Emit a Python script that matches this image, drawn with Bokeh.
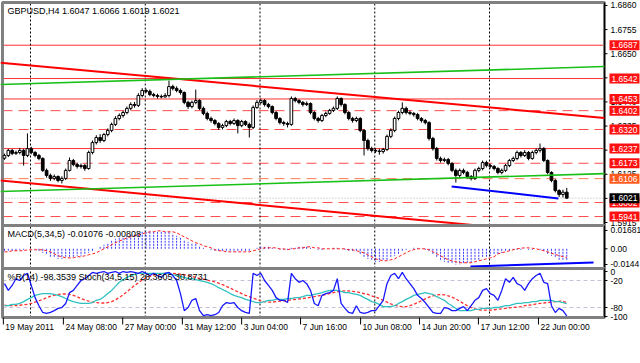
from bokeh.plotting import figure
from bokeh.models import Range1d
from bokeh.core.properties import value
from bokeh.embed import file_html
from bokeh.resources import INLINE

# ---------------- data ----------------
chart_title = "GBPUSD,H4  1.6047 1.6066 1.6019 1.6021"
macd_title = "MACD(5,34,5) -0.01076 -0.00808"
osc_title = "%R(14) -98.3539  Stoch(34,5,15) 28.3605 30.8731"

opens = [1.6195, 1.6207, 1.6229, 1.6216, 1.6220, 1.6229, 1.6207, 1.6237, 1.6220, 1.6207,
         1.6194, 1.6142, 1.6120, 1.6107, 1.6115, 1.6098, 1.6107, 1.6142, 1.6185, 1.6168,
         1.6159, 1.6163, 1.6150, 1.6220, 1.6263, 1.6285, 1.6272, 1.6298, 1.6316, 1.6342,
         1.6368, 1.6381, 1.6394, 1.6412, 1.6429, 1.6425, 1.6468, 1.6490, 1.6486, 1.6472,
         1.6468, 1.6464, 1.6462, 1.6468, 1.6507, 1.6499, 1.6490, 1.6481, 1.6438, 1.6420,
         1.6438, 1.6446, 1.6412, 1.6390, 1.6368, 1.6359, 1.6346, 1.6329, 1.6337, 1.6355,
         1.6346, 1.6359, 1.6337, 1.6355, 1.6342, 1.6329, 1.6416, 1.6438, 1.6446, 1.6429,
         1.6420, 1.6394, 1.6368, 1.6350, 1.6346, 1.6342, 1.6455, 1.6446, 1.6438, 1.6429,
         1.6433, 1.6394, 1.6368, 1.6359, 1.6381, 1.6390, 1.6403, 1.6412, 1.6455, 1.6429,
         1.6394, 1.6368, 1.6359, 1.6368, 1.6316, 1.6272, 1.6237, 1.6229, 1.6226, 1.6224,
         1.6233, 1.6290, 1.6316, 1.6368, 1.6394, 1.6412, 1.6394, 1.6390, 1.6385, 1.6368,
         1.6359, 1.6350, 1.6281, 1.6237, 1.6194, 1.6185, 1.6189, 1.6172, 1.6142, 1.6120,
         1.6142, 1.6133, 1.6115, 1.6107, 1.6142, 1.6150, 1.6176, 1.6163, 1.6159, 1.6150,
         1.6133, 1.6142, 1.6163, 1.6185, 1.6194, 1.6220, 1.6207, 1.6220, 1.6194, 1.6220,
         1.6229, 1.6237, 1.6185, 1.6133, 1.6098, 1.6054, 1.6037, 1.6047]
closes = [1.6207, 1.6229, 1.6216, 1.6220, 1.6229, 1.6207, 1.6237, 1.6220, 1.6207, 1.6194,
          1.6142, 1.6120, 1.6107, 1.6115, 1.6098, 1.6107, 1.6142, 1.6185, 1.6168, 1.6159,
          1.6163, 1.6150, 1.6220, 1.6263, 1.6285, 1.6272, 1.6298, 1.6316, 1.6342, 1.6368,
          1.6381, 1.6394, 1.6412, 1.6429, 1.6425, 1.6468, 1.6490, 1.6486, 1.6472, 1.6468,
          1.6464, 1.6462, 1.6468, 1.6507, 1.6499, 1.6490, 1.6481, 1.6438, 1.6420, 1.6438,
          1.6446, 1.6412, 1.6390, 1.6368, 1.6359, 1.6346, 1.6329, 1.6337, 1.6355, 1.6346,
          1.6359, 1.6337, 1.6355, 1.6342, 1.6329, 1.6416, 1.6438, 1.6446, 1.6429, 1.6420,
          1.6394, 1.6368, 1.6350, 1.6346, 1.6342, 1.6455, 1.6446, 1.6438, 1.6429, 1.6433,
          1.6394, 1.6368, 1.6359, 1.6381, 1.6390, 1.6403, 1.6412, 1.6455, 1.6429, 1.6394,
          1.6368, 1.6359, 1.6368, 1.6316, 1.6272, 1.6237, 1.6229, 1.6226, 1.6224, 1.6233,
          1.6290, 1.6316, 1.6368, 1.6394, 1.6412, 1.6394, 1.6390, 1.6385, 1.6368, 1.6359,
          1.6350, 1.6281, 1.6237, 1.6194, 1.6185, 1.6189, 1.6172, 1.6142, 1.6120, 1.6142,
          1.6133, 1.6115, 1.6107, 1.6142, 1.6150, 1.6176, 1.6163, 1.6159, 1.6150, 1.6133,
          1.6142, 1.6163, 1.6185, 1.6194, 1.6220, 1.6207, 1.6220, 1.6194, 1.6220, 1.6229,
          1.6237, 1.6185, 1.6133, 1.6098, 1.6054, 1.6037, 1.6047, 1.6021]
highs = [1.6215, 1.6236, 1.6235, 1.6228, 1.6240, 1.6236, 1.6303, 1.6245, 1.6226, 1.6214,
         1.6199, 1.6150, 1.6128, 1.6124, 1.6120, 1.6116, 1.6150, 1.6198, 1.6192, 1.6176,
         1.6172, 1.6170, 1.6228, 1.6272, 1.6295, 1.6300, 1.6305, 1.6325, 1.6350, 1.6378,
         1.6390, 1.6402, 1.6420, 1.6438, 1.6440, 1.6478, 1.6500, 1.6498, 1.6494, 1.6480,
         1.6476, 1.6472, 1.6478, 1.6533, 1.6515, 1.6508, 1.6498, 1.6486, 1.6445, 1.6446,
         1.6494, 1.6452, 1.6420, 1.6398, 1.6376, 1.6366, 1.6352, 1.6345, 1.6362, 1.6362,
         1.6368, 1.6365, 1.6362, 1.6360, 1.6350, 1.6425, 1.6448, 1.6455, 1.6452, 1.6436,
         1.6425, 1.6400, 1.6374, 1.6358, 1.6354, 1.6464, 1.6462, 1.6452, 1.6444, 1.6442,
         1.6438, 1.6400, 1.6375, 1.6388, 1.6398, 1.6410, 1.6420, 1.6464, 1.6460, 1.6434,
         1.6400, 1.6375, 1.6376, 1.6374, 1.6322, 1.6280, 1.6245, 1.6238, 1.6236, 1.6240,
         1.6298, 1.6325, 1.6376, 1.6402, 1.6438, 1.6420, 1.6402, 1.6396, 1.6392, 1.6374,
         1.6366, 1.6356, 1.6288, 1.6244, 1.6202, 1.6198, 1.6196, 1.6178, 1.6150, 1.6150,
         1.6150, 1.6140, 1.6122, 1.6150, 1.6158, 1.6185, 1.6184, 1.6170, 1.6166, 1.6156,
         1.6150, 1.6170, 1.6192, 1.6202, 1.6228, 1.6226, 1.6230, 1.6226, 1.6228, 1.6238,
         1.6259, 1.6244, 1.6190, 1.6138, 1.6104, 1.6060, 1.6058, 1.6066]
lows = [1.6188, 1.6200, 1.6208, 1.6209, 1.6212, 1.6163, 1.6200, 1.6212, 1.6199, 1.6186,
        1.6135, 1.6110, 1.6096, 1.6099, 1.6090, 1.6085, 1.6100, 1.6137, 1.6160, 1.6150,
        1.6150, 1.6140, 1.6145, 1.6212, 1.6255, 1.6262, 1.6265, 1.6290, 1.6308, 1.6335,
        1.6360, 1.6372, 1.6386, 1.6405, 1.6415, 1.6418, 1.6460, 1.6478, 1.6465, 1.6460,
        1.6455, 1.6456, 1.6458, 1.6460, 1.6490, 1.6482, 1.6472, 1.6430, 1.6410, 1.6412,
        1.6430, 1.6405, 1.6382, 1.6360, 1.6350, 1.6338, 1.6318, 1.6320, 1.6330, 1.6338,
        1.6340, 1.6303, 1.6330, 1.6335, 1.6285, 1.6322, 1.6410, 1.6430, 1.6420, 1.6412,
        1.6386, 1.6360, 1.6342, 1.6336, 1.6329, 1.6336, 1.6438, 1.6430, 1.6420, 1.6422,
        1.6386, 1.6360, 1.6350, 1.6352, 1.6374, 1.6384, 1.6396, 1.6405, 1.6420, 1.6386,
        1.6360, 1.6350, 1.6352, 1.6308, 1.6207, 1.6228, 1.6220, 1.6218, 1.6210, 1.6215,
        1.6226, 1.6282, 1.6308, 1.6360, 1.6386, 1.6386, 1.6382, 1.6376, 1.6360, 1.6350,
        1.6342, 1.6272, 1.6228, 1.6185, 1.6176, 1.6178, 1.6164, 1.6134, 1.6089, 1.6112,
        1.6125, 1.6106, 1.6098, 1.6100, 1.6134, 1.6142, 1.6155, 1.6150, 1.6142, 1.6125,
        1.6125, 1.6135, 1.6156, 1.6178, 1.6186, 1.6198, 1.6200, 1.6186, 1.6188, 1.6212,
        1.6220, 1.6178, 1.6125, 1.6090, 1.6046, 1.6026, 1.6024, 1.6019]

macd_main = [-0.0018, -0.0018, -0.0028, -0.0018, -0.0009,
             -0.0009, 0.0000, 0.0000, -0.0009, -0.0018,
             -0.0037, -0.0055, -0.0073, -0.0083, -0.0092, -0.0092,
             -0.0083, -0.0073, -0.0073, -0.0064, -0.0064, -0.0055,
             -0.0037, -0.0018, 0.0000, 0.0018, 0.0037, 0.0055,
             0.0073, 0.0092, 0.0101, 0.0110, 0.0119, 0.0128, 0.0138,
             0.0147, 0.0156, 0.0168, 0.0168, 0.0165, 0.0156, 0.0156, 0.0156,
             0.0156, 0.0138, 0.0119, 0.0101,
             0.0083, 0.0064, 0.0055, 0.0046,
             0.0028, 0.0009, 0.0000, -0.0009,
             -0.0018, -0.0028, -0.0028, -0.0028, -0.0028, -0.0028, -0.0028, -0.0028, -0.0028, -0.0018,
             0.0000, 0.0009, 0.0018, 0.0018, 0.0018,
             0.0009, 0.0000, -0.0009, -0.0009, -0.0009,
             0.0009, 0.0009, 0.0018, 0.0018, 0.0018,
             0.0009, 0.0000, -0.0009, -0.0009, 0.0000,
             0.0000, 0.0009, 0.0009, 0.0000, -0.0009, -0.0018, -0.0028, -0.0028,
             -0.0046, -0.0073, -0.0092, -0.0110, -0.0119, -0.0119, -0.0110,
             -0.0101, -0.0083, -0.0064, -0.0046, -0.0028,
             -0.0009, 0.0000, 0.0009, 0.0009, 0.0000, -0.0009,
             -0.0028, -0.0055, -0.0083, -0.0101, -0.0119, -0.0128, -0.0138,
             -0.0144, -0.0142, -0.0138, -0.0128, -0.0124,
             -0.0110, -0.0101, -0.0083, -0.0073, -0.0064, -0.0055,
             -0.0046, -0.0037, -0.0028, -0.0018, -0.0009, -0.0009,
             -0.0009, 0.0000, -0.0009, -0.0009, 0.0000, -0.0009,
             -0.0028, -0.0046, -0.0064, -0.0083, -0.0101, -0.0108, -0.01076]
macd_signal = [-0.0028, -0.0028, -0.0018, -0.0018, -0.0018,
               -0.0018, -0.0009, -0.0009, -0.0009, -0.0009,
               -0.0009, -0.0018, -0.0028, -0.0046, -0.0064, -0.0073,
               -0.0083, -0.0083, -0.0083, -0.0073, -0.0073, -0.0064,
               -0.0055, -0.0046, -0.0037, -0.0018, 0.0000, 0.0018,
               0.0037, 0.0055, 0.0073, 0.0083, 0.0101, 0.0110, 0.0119,
               0.0128, 0.0138, 0.0147, 0.0156, 0.0156, 0.0165, 0.0165, 0.0156,
               0.0156, 0.0156, 0.0147, 0.0128,
               0.0110, 0.0092, 0.0073, 0.0055,
               0.0046, 0.0028, 0.0018, 0.0009,
               -0.0009, -0.0018, -0.0018, -0.0028, -0.0028, -0.0028, -0.0028, -0.0028, -0.0028, -0.0028,
               -0.0018, -0.0009, 0.0000, 0.0009, 0.0009,
               0.0009, 0.0009, 0.0000, 0.0000, -0.0009,
               0.0000, 0.0000, 0.0009, 0.0009, 0.0018,
               0.0018, 0.0009, 0.0009, 0.0000, 0.0000,
               0.0000, 0.0000, 0.0000, 0.0000, 0.0000, -0.0009, -0.0009, -0.0018,
               -0.0028, -0.0037, -0.0055, -0.0073, -0.0092, -0.0101, -0.0110,
               -0.0110, -0.0101, -0.0092, -0.0073, -0.0055,
               -0.0037, -0.0018, -0.0009, 0.0000, 0.0000, 0.0000,
               -0.0009, -0.0028, -0.0046, -0.0064, -0.0083, -0.0101, -0.0110,
               -0.0119, -0.0128, -0.0128, -0.0128, -0.0128,
               -0.0119, -0.0110, -0.0101, -0.0092, -0.0083, -0.0073,
               -0.0046, -0.0037, -0.0028, -0.0018, -0.0009, 0.0000,
               0.0005, 0.0009, 0.0009, 0.0005, 0.0000, -0.0009,
               -0.0018, -0.0028, -0.0040, -0.0052, -0.0062, -0.0072, -0.00808]

wpr = [-27, -42, -31, -16, -20, -9, -4, -31, -58, -76,
       -91, -93, -91, -87, -82, -80, -71, -47, -42, -31,
       -20, -16, -9, -2, -4, -2, 0, -4, -2, 0,
       -4, 0, -2, 0, -2, -4, 0, -4, -9, -4,
       -9, -13, -4, -2, -9, -20, -49, -87, -80, -64,
       -60, -87, -98, -96, -98, -96, -91, -76, -69, -71,
       -69, -80, -87, -91, -93, -4, -9, -4, -20, -31,
       -42, -58, -64, -64, -69, -4, -16, -24, -20, -27,
       -42, -71, -76, -53, -49, -47, -42, -16, -71, -82,
       -91, -93, -76, -91, -93, -91, -87, -87, -76, -64,
       -27, -9, -4, -16, -2, -16, -27, -38, -53, -60,
       -69, -80, -91, -93, -93, -80, -82, -87, -87, -82,
       -78, -87, -76, -64, -58, -42, -38, -49, -53, -64,
       -42, -16, -24, -13, -27, -31, -42, -27, -16, -9,
       -4, -24, -27, -76, -91, -82, -87, -98.35]
stoch_main = [24, 24, 27, 27, 29, 33, 38, 42, 47, 49,
              51, 51, 51, 49, 47, 44, 40, 36, 33, 31,
              29, 29, 29, 31, 36, 38, 44, 51, 58, 67,
              76, 82, 87, 91, 93, 96, 96, 96, 96, 96,
              96, 96, 96, 96, 93, 91, 89, 87, 84, 84,
              82, 80, 78, 76, 73, 69, 64, 60, 56, 51,
              47, 44, 42, 38, 36, 33, 31, 31, 33, 36,
              36, 38, 38, 38, 40, 40, 42, 42, 44, 47,
              47, 49, 51, 53, 56, 58, 58, 58, 56, 53,
              53, 51, 49, 47, 42, 38, 33, 31, 27, 22,
              22, 22, 24, 29, 33, 38, 42, 47, 49, 51,
              53, 51, 49, 44, 40, 36, 29, 24, 18, 13,
              13, 13, 13, 16, 16, 18, 18, 18, 20, 20,
              22, 24, 24, 27, 29, 29, 31, 31, 33, 33,
              36, 36, 36, 36, 33, 33, 31, 28.36]
stoch_signal = [25, 24, 24, 24, 25, 26, 27, 29, 32, 35,
                38, 42, 45, 47, 49, 50, 50, 49, 47, 44,
                40, 37, 34, 32, 31, 30, 30, 31, 33, 37,
                42, 48, 55, 62, 69, 75, 81, 86, 89, 92,
                94, 95, 96, 96, 96, 95, 94, 93, 91, 89,
                87, 85, 83, 81, 79, 77, 74, 71, 67, 63,
                59, 55, 51, 47, 44, 41, 38, 35, 33, 32,
                32, 33, 34, 35, 36, 37, 38, 39, 40, 41,
                43, 44, 46, 47, 49, 51, 53, 55, 56, 57,
                57, 56, 55, 53, 51, 49, 46, 43, 40, 36,
                32, 28, 25, 23, 22, 22, 24, 27, 31, 35,
                39, 43, 46, 48, 49, 48, 46, 43, 39, 34,
                29, 24, 20, 17, 15, 14, 14, 14, 15, 16,
                17, 18, 19, 20, 21, 22, 24, 25, 26, 28,
                29, 30, 31, 32, 33, 34, 34, 30.87]

solid_levels = [1.6687, 1.6542, 1.6453, 1.6237]
dashed_levels = [1.6402, 1.6320, 1.6173, 1.6002, 1.5941]
orange_level = 1.6106
box_levels = [1.6687, 1.6542, 1.6453, 1.6402, 1.6320, 1.6237, 1.6173, 1.6106, 1.6002, 1.5941]
box_colors = ["#ff1010", "#ff1010", "#ff1010", "#ff1010", "#ff1010", "#ff1010", "#ff1010",
              "#ff5a1e", "#ff1010", "#ff1010"]
bid_price = 1.6021
price_ticks = [1.6860, 1.6755, 1.6650, 1.6545, 1.6440, 1.6335, 1.6230, 1.6125, 1.6020, 1.5915]

trend_x = [-1.05, 156.86]
red_top_y = [1.6611, 1.6370]
green_top_y = [1.6516, 1.6594]
green_bot_y = [1.6050, 1.6128]
red_bot_x = [-1.05, 123.8]
red_bot_y = [1.6098, 1.5902]
blue_x = [116.9, 144.8]
blue_y = [1.6072, 1.6020]
macd_trend_x = [121.8, 154.0]
macd_trend_y = [-0.0162, -0.0126]

macd_ticks = [0.01681, 0.0, -0.0144]
macd_tick_labels = ["0.01681", "0.00", "-0.0144"]
osc_ticks = [0, -20, -80, -100]
osc_tick_labels = ["0", "-20", "-80", "-100"]
osc_levels = [-20, -80]

week_seps = [6.8, 36.8, 66.8, 96.8, 126.8]
time_ticks = [-0.3, 15.4, 30.9, 46.5, 62.0, 77.4, 93.1, 108.5, 123.9, 139.6]
time_labels = ["19 May 2011", "24 May 08:00", "27 May 00:00", "31 May 12:00", "3 Jun 04:00",
               "7 Jun 16:00", "10 Jun 08:00", "14 Jun 20:00", "17 Jun 12:00", "22 Jun 00:00"]

# ---------------- layout constants ----------------
FONT = "Liberation Sans"
FS = "8.5px"
TFS = "9px"
W, H = 640, 341         # canvas (plot area spans the whole canvas)
PXB = 3.825             # pixels per bar
XC0 = -4 / PXB          # canvas left edge in bar units
X0 = -0.523             # left edge of the chart border
XA = 156.86             # price-axis position (bar units)
XC1 = XC0 + W / PXB     # canvas right edge in bar units
idx = list(range(len(closes)))

# each panel: (value at lower edge, value at upper edge, pixel row of lower edge, of upper edge)
M_LO, M_HI, M_PLO, M_PHI = 1.5902, 1.6873, 225, 2
D_LO, D_HI, D_PLO, D_PHI = -0.01807, 0.02138, 268, 225
O_LO, O_HI, O_PLO, O_PHI = -102.2, 6.7, 317, 268
S_LO, S_HI = O_LO + 100, O_HI + 100


def canvas_range(lo, hi, plo, phi):
    upp = (hi - lo) / (plo - phi)
    return Range1d(lo - (H - plo) * upp, hi + phi * upp), upp


main_r, M_UPP = canvas_range(M_LO, M_HI, M_PLO, M_PHI)
macd_r, D_UPP = canvas_range(D_LO, D_HI, D_PLO, D_PHI)
osc_r, O_UPP = canvas_range(O_LO, O_HI, O_PLO, O_PHI)
stoch_r, _ = canvas_range(S_LO, S_HI, O_PLO, O_PHI)

p = figure(width=W, height=H, x_range=Range1d(XC0, XC1), y_range=main_r, output_backend="svg",
           toolbar_location=None, x_axis_location=None, y_axis_location=None,
           min_border=0, outline_line_color=None)
p.extra_y_ranges = {"macd": macd_r, "osc": osc_r, "stoch": stoch_r}
p.grid.visible = False
p.background_fill_color = "white"
p.border_fill_color = "white"


def decorate(rn, lo, hi, ticks, labels):
    p.segment(x0=week_seps, y0=[lo] * len(week_seps), x1=week_seps, y1=[hi] * len(week_seps),
              line_color="black", line_dash="2 2", line_width=1, y_range_name=rn)
    p.quad(left=[X0], right=[XA], bottom=[lo], top=[hi], fill_color=None,
           line_color="#808080", line_width=3, y_range_name=rn)
    p.segment(x0=[XA], y0=[lo], x1=[XA], y1=[hi], line_color="black", line_width=1,
              y_range_name=rn)
    p.segment(x0=[XA] * len(ticks), y0=ticks, x1=[XA + 3 / PXB] * len(ticks), y1=ticks,
              line_color="black", line_width=1, y_range_name=rn)
    p.text(x=[XA] * len(ticks), y=ticks, text=labels, x_offset=6, text_font=value(FONT),
           text_font_size=FS, text_color="black", text_baseline="middle", text_align="left",
           y_range_name=rn)


# ---- main price panel ----
p.segment(x0=[X0] * len(solid_levels), y0=solid_levels, x1=[XA] * len(solid_levels),
          y1=solid_levels, line_color="#ff3030", line_width=1)
p.segment(x0=[X0] * len(dashed_levels), y0=dashed_levels, x1=[XA] * len(dashed_levels),
          y1=dashed_levels, line_color="#ff4a4a", line_width=1, line_dash="10 6")
p.segment(x0=[X0], y0=[orange_level], x1=[XA], y1=[orange_level], line_color="#ff7a50",
          line_width=1, line_dash="10 6")
p.segment(x0=[X0], y0=[bid_price], x1=[XA], y1=[bid_price], line_color="#b0b0b0",
          line_width=1, line_dash="1 2")
decorate("default", M_LO, M_HI, price_ticks, [f"{t:.4f}" for t in price_ticks])

bull = [i for i in idx if closes[i] >= opens[i]]
bear = [i for i in idx if closes[i] < opens[i]]
p.segment(x0=idx, y0=highs, x1=idx, y1=lows, color="black", line_width=1)
for sel, fill in ((bull, "white"), (bear, "black")):
    p.vbar(x=sel, top=[max(opens[i], closes[i]) for i in sel],
           bottom=[min(opens[i], closes[i]) for i in sel],
           width=0.7, fill_color=fill, line_color="black", line_width=1)

p.line(trend_x, red_top_y, color="#ff0000", line_width=2)
p.line(trend_x, green_top_y, color="#18c018", line_width=1.6)
p.line(red_bot_x, red_bot_y, color="#ff0000", line_width=2)
p.line(trend_x, green_bot_y, color="#18c018", line_width=1.6)
p.line(blue_x, blue_y, color="#0000ff", line_width=2)

p.text(x=[X0], y=[M_HI - 3 * M_UPP], text=[chart_title], x_offset=5, text_font=value(FONT),
       text_font_size=TFS, text_color="black", text_baseline="top", text_align="left")
p.text(x=[XA] * len(box_levels), y=box_levels, text=[f"{v:.4f}" for v in box_levels],
       x_offset=5, text_font=value(FONT), text_font_size=FS, text_color="white",
       text_baseline="middle", text_align="left", background_fill_color=box_colors, padding=2)
p.text(x=[XA], y=[bid_price], text=[f"{bid_price:.4f}"], x_offset=5, text_font=value(FONT),
       text_font_size=FS, text_color="white", text_baseline="middle", text_align="left",
       background_fill_color="black", padding=2)

# ---- MACD panel ----
decorate("macd", D_LO, D_HI, macd_ticks, macd_tick_labels)
p.segment(x0=idx, y0=[0.0] * len(idx), x1=idx, y1=macd_main, color="#3a3aff",
          line_width=1, line_dash="2 1", y_range_name="macd")
p.line(idx, macd_signal, color="#ff2020", line_width=1, line_dash="3 2", y_range_name="macd")
p.line(macd_trend_x, macd_trend_y, color="#0000ff", line_width=2, y_range_name="macd")
p.text(x=[X0], y=[D_HI - 3 * D_UPP], text=[macd_title], x_offset=5, text_font=value(FONT),
       text_font_size=TFS, text_color="black", text_baseline="top", text_align="left",
       y_range_name="macd")

# ---- %R / Stochastic panel ----
p.segment(x0=[X0] * len(osc_levels), y0=osc_levels, x1=[XA] * len(osc_levels), y1=osc_levels,
          line_color="#c8c0d8", line_width=1, line_dash="4 3", y_range_name="osc")
decorate("osc", O_LO, O_HI, osc_ticks, osc_tick_labels)
p.line(idx, stoch_signal, y_range_name="stoch", color="#ff3030", line_width=1.3, line_dash="3 2")
p.line(idx, stoch_main, y_range_name="stoch", color="#30c0c0", line_width=1.3)
p.line(idx, wpr, color="#1818ff", line_width=1.3, y_range_name="osc")
p.text(x=[X0], y=[O_HI - 3 * O_UPP], text=[osc_title], x_offset=5, text_font=value(FONT),
       text_font_size=TFS, text_color="black", text_baseline="top", text_align="left",
       y_range_name="osc")
p.segment(x0=time_ticks, y0=[O_LO] * len(time_ticks), x1=time_ticks,
          y1=[O_LO - 7 * O_UPP] * len(time_ticks), line_color="black", line_width=1,
          y_range_name="osc")
p.text(x=time_ticks, y=[O_LO - 4 * O_UPP] * len(time_ticks), text=time_labels, x_offset=2,
       text_font=value(FONT), text_font_size=FS, text_color="black", text_baseline="top",
       text_align="left", y_range_name="osc")

open("out.html", "w").write(file_html(p, INLINE))
